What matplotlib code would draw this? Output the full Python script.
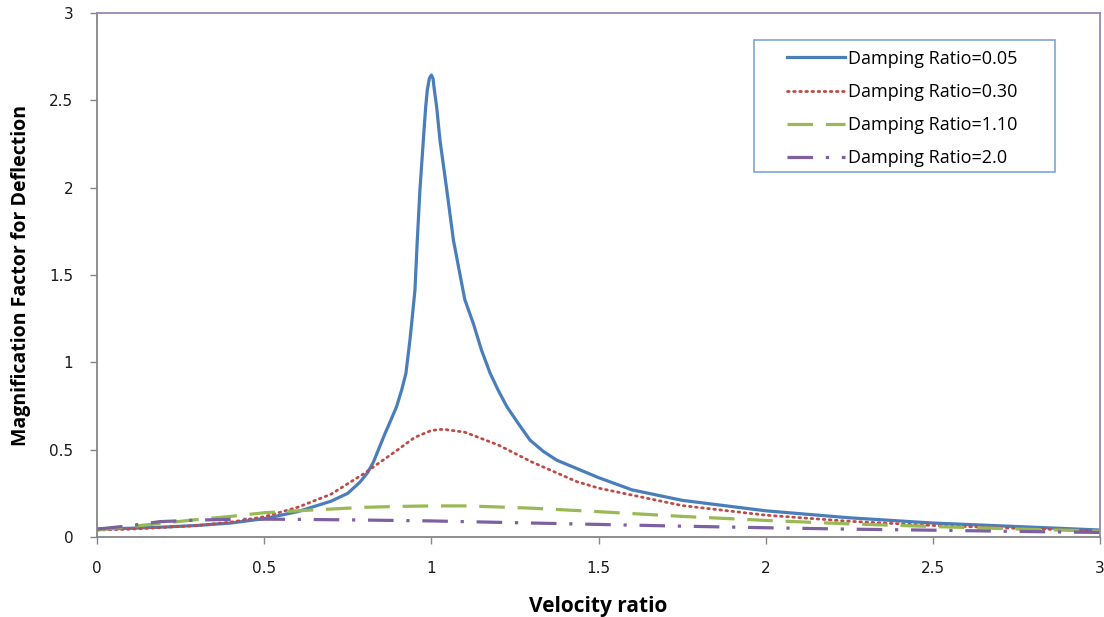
import matplotlib
matplotlib.use("Agg")
import matplotlib.pyplot as plt
from matplotlib.patches import Rectangle

# velocity ratio vs magnification factor
x_005 = [0.0, 0.1, 0.2, 0.3, 0.4, 0.5, 0.6, 0.7, 0.75, 0.787, 0.81, 0.827, 0.845, 0.862,
         0.878, 0.896, 0.911, 0.924, 0.936, 0.941, 0.951, 0.958, 0.966, 0.976, 0.983, 0.988,
         0.994, 1.0, 1.005, 1.009, 1.016, 1.026, 1.046, 1.066, 1.1, 1.126, 1.15, 1.176, 1.2,
         1.226, 1.26, 1.295, 1.335, 1.375, 1.445, 1.5, 1.6, 1.75, 2.0, 2.25, 2.5, 2.75, 3.0]
y_005 = [0.046, 0.05, 0.057, 0.066, 0.08, 0.105, 0.145, 0.205, 0.25, 0.315, 0.37, 0.43,
         0.515, 0.595, 0.665, 0.746, 0.84, 0.937, 1.128, 1.22, 1.414, 1.70, 1.99, 2.27, 2.46,
         2.56, 2.625, 2.645, 2.625, 2.56, 2.46, 2.27, 1.99, 1.70, 1.36, 1.22, 1.07, 0.937,
         0.84, 0.746, 0.65, 0.555, 0.49, 0.44, 0.384, 0.34, 0.27, 0.21, 0.15, 0.11, 0.08,
         0.06, 0.04]

x_030 = [0.0, 0.1, 0.2, 0.3, 0.4, 0.5, 0.6, 0.7, 0.8, 0.9, 0.95, 1.0, 1.036, 1.1, 1.2,
         1.3, 1.435, 1.5, 1.75, 2.0, 2.25, 2.5, 2.75, 3.0]
y_030 = [0.04, 0.045, 0.055, 0.066, 0.085, 0.116, 0.17, 0.245, 0.365, 0.50, 0.57, 0.61,
         0.617, 0.60, 0.527, 0.43, 0.317, 0.28, 0.18, 0.125, 0.09, 0.066, 0.05, 0.035]

x_110 = [0.0, 0.1, 0.2, 0.3, 0.4, 0.5, 0.6, 0.7, 0.8, 0.9, 1.0, 1.1, 1.2, 1.3, 1.4, 1.5,
         1.75, 2.0, 2.25, 2.5, 2.75, 3.0]
y_110 = [0.04, 0.06, 0.08, 0.1, 0.118, 0.139, 0.15, 0.16, 0.17, 0.175, 0.178, 0.178,
         0.172, 0.165, 0.155, 0.145, 0.118, 0.095, 0.075, 0.06, 0.046, 0.034]

x_200 = [0.0, 0.1, 0.188, 0.3, 0.4, 0.5, 0.6, 0.8, 1.0, 1.25, 1.5, 1.75, 2.0, 2.25, 2.5,
         2.75, 3.0]
y_200 = [0.045, 0.065, 0.088, 0.097, 0.101, 0.102, 0.101, 0.097, 0.092, 0.082, 0.072,
         0.062, 0.053, 0.045, 0.039, 0.032, 0.026]

x_ticks = [0, 0.5, 1, 1.5, 2, 2.5, 3]
x_tick_labels = ["0", "0.5", "1", "1.5", "2", "2.5", "3"]
y_ticks = [0, 0.5, 1, 1.5, 2, 2.5, 3]
y_tick_labels = ["0", "0.5", "1", "1.5", "2", "2.5", "3"]

LABEL_FONT = ["Open Sans", "DejaVu Sans"]
GRAY = "#868686"

fig = plt.figure(figsize=(11.04, 6.17), dpi=100)
ax = fig.add_axes([97 / 1104, 80 / 617, 1003 / 1104, 524 / 617])

ax.plot(x_005, y_005, color="#4a7ebb", lw=2.3, solid_joinstyle="round",
        label="Damping Ratio=0.05")
ax.plot(x_030, y_030, color="#be4b48", lw=2.0, linestyle=(0, (0.6, 1.6)),
        dash_capstyle="round", label="Damping Ratio=0.30")
ax.plot(x_110, y_110, color="#98b954", lw=2.3, linestyle=(0, (8, 4)),
        label="Damping Ratio=1.10")
ax.plot(x_200, y_200, color="#7d60a0", lw=2.3, linestyle=(0, (8, 4, 1, 4)),
        label="Damping Ratio=2.0")

ax.set_xlim(0, 3)
ax.set_ylim(0, 3)
ax.set_xticks(x_ticks)
ax.set_xticklabels(x_tick_labels)
ax.set_yticks(y_ticks)
ax.set_yticklabels(y_tick_labels)
ax.tick_params(axis="both", direction="out", length=5, width=1, color=GRAY,
               labelsize=11, labelcolor="#1a1a1a")
ax.tick_params(axis="x", pad=12)
ax.tick_params(axis="y", pad=12)

for side in ["left", "bottom"]:
    ax.spines[side].set_color(GRAY)
    ax.spines[side].set_linewidth(1.3)
for side in ["top", "right"]:
    ax.spines[side].set_color("#9a86b8")
    ax.spines[side].set_linewidth(1.3)

ax.set_xlabel("Velocity ratio", fontsize=15, fontweight="bold", family=LABEL_FONT,
              labelpad=15)
ax.set_ylabel("Magnification Factor for Deflection", fontsize=14, fontweight="bold",
              family=LABEL_FONT, labelpad=13)

# legend frame drawn separately so the inner padding can be wider than tall
ax.add_patch(Rectangle((0.655, 0.6966), 0.300, 0.2519, transform=ax.transAxes,
                       facecolor="white", edgecolor="#7fa6d6", lw=1.2, zorder=4))
leg = ax.legend(loc="upper left", bbox_to_anchor=(0.688, 0.930), frameon=False,
                borderpad=0, borderaxespad=0, handlelength=3.2,
                handletextpad=0.2, labelspacing=0.84,
                prop={"family": LABEL_FONT, "size": 13})
leg.set_zorder(5)

fig.savefig("out.png", dpi=100)
